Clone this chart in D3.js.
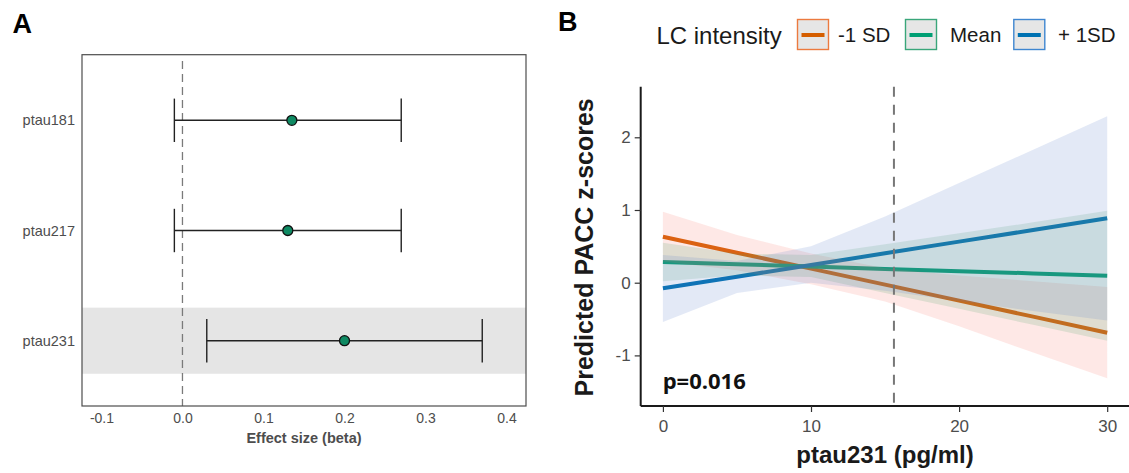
<!DOCTYPE html>
<html>
<head>
<meta charset="utf-8">
<script src="https://cdn.jsdelivr.net/npm/d3@7"></script>
<style>
  body { margin: 0; background: #fff; }
  text { font-family: "Liberation Sans", Arial, sans-serif; }
</style>
</head>
<body>
<div id="chart"></div>
<script>
// Panel A: forest plot data
var markers = ["ptau181", "ptau217", "ptau231"];
var beta = [0.135, 0.13, 0.2];
var ciLow = [-0.01, -0.01, 0.03];
var ciHigh = [0.27, 0.27, 0.37];
var xTicksA = [-0.1, 0, 0.1, 0.2, 0.3, 0.4];

// Panel B: predicted PACC by ptau231, per LC intensity group
var groups = ["-1 SD", "Mean", "+ 1SD"];
var ptau = [0, 5, 10, 15, 20, 25, 30];
var predLowLC = [0.633, 0.413, 0.193, -0.027, -0.247, -0.467, -0.688];
var predMeanLC = [0.285, 0.254, 0.222, 0.190, 0.159, 0.128, 0.096];
var predHighLC = [-0.077, 0.083, 0.244, 0.404, 0.565, 0.725, 0.886];
var lowerLowLC = [0.29, 0.17, -0.02, -0.26, -0.60, -0.96, -1.315];
var upperLowLC = [0.977, 0.656, 0.40, 0.20, 0.10, 0.02, -0.06];
var lowerMeanLC = [0.02, 0.10, 0.08, -0.14, -0.36, -0.58, -0.80];
var upperMeanLC = [0.55, 0.40, 0.38, 0.53, 0.68, 0.83, 0.99];
var lowerHighLC = [-0.54, -0.14, 0.0, -0.11, -0.25, -0.39, -0.52];
var upperHighLC = [0.38, 0.30, 0.50, 0.91, 1.37, 1.83, 2.29];
var xTicksB = [0, 10, 20, 30];
var yTicksB = [-1, 0, 1, 2];
var cutoff = 15.6;
var pLabel = "p=0.016";

var lineColors = ["#D55E00", "#009E73", "#0072B2"];
var ribbonColors = ["#F8766D", "#4a9e62", "#5b7fc8"];
var keyBorders = ["#ec7a3f", "#3aa67a", "#3f86d0"];

var svgWidth = 1129;
var svgHeight = 473;

var svg = d3.select("#chart")
  .append("svg").attr("width", svgWidth).attr("height", svgHeight)
  .style("display", "block");

svg.append("rect").attr("width", svgWidth).attr("height", svgHeight).attr("fill", "#fff");

// plain hyphen for negatives, like the original
function fmt1(d) { return d.toFixed(1); }
function fmt0(d) { return String(d); }

// ---------- Panel A ----------
var boxA = {left: 82, right: 526, top: 54.7, bottom: 406};

var xA = d3.scaleLinear().domain([-0.124, 0.424]).range([boxA.left, boxA.right]);
var yA = d3.scalePoint().domain(markers).range([120.3, 340.7]);

var panelA = svg.append("g");

// shaded row for ptau231
var bandHalf = yA.step() * 0.3;
panelA.append("rect")
  .attr("x", boxA.left)
  .attr("y", yA("ptau231") - bandHalf)
  .attr("width", boxA.right - boxA.left)
  .attr("height", bandHalf * 2)
  .attr("fill", "#e5e5e5");

panelA.append("line")
  .attr("x1", xA(0)).attr("x2", xA(0))
  .attr("y1", 61).attr("y2", boxA.bottom)
  .attr("stroke", "#7a7a7a")
  .attr("stroke-width", 1.3)
  .attr("stroke-dasharray", "8,5");

var rows = markers.map(function(m, i) {
  return {name: m, beta: beta[i], lo: ciLow[i], hi: ciHigh[i]};
});

var errGroup = panelA.selectAll(".err")
  .data(rows)
  .enter()
  .append("g")
  .attr("class", "err");

errGroup.append("line")
  .attr("x1", d => xA(d.lo)).attr("x2", d => xA(d.hi))
  .attr("y1", d => yA(d.name)).attr("y2", d => yA(d.name))
  .attr("stroke", "#222").attr("stroke-width", 1.4);

errGroup.append("line")
  .attr("x1", d => xA(d.lo)).attr("x2", d => xA(d.lo))
  .attr("y1", d => yA(d.name) - 21.7).attr("y2", d => yA(d.name) + 21.7)
  .attr("stroke", "#222").attr("stroke-width", 1.4);

errGroup.append("line")
  .attr("x1", d => xA(d.hi)).attr("x2", d => xA(d.hi))
  .attr("y1", d => yA(d.name) - 21.7).attr("y2", d => yA(d.name) + 21.7)
  .attr("stroke", "#222").attr("stroke-width", 1.4);

errGroup.append("circle")
  .attr("cx", d => xA(d.beta))
  .attr("cy", d => yA(d.name))
  .attr("r", 5)
  .attr("fill", "#0f8a63")
  .attr("stroke", "#111")
  .attr("stroke-width", 1.3);

panelA.append("rect")
  .attr("x", boxA.left).attr("y", boxA.top)
  .attr("width", boxA.right - boxA.left)
  .attr("height", boxA.bottom - boxA.top)
  .attr("fill", "none")
  .attr("stroke", "#4d4d4d")
  .attr("stroke-width", 1.2);

var axisA = panelA.append("g")
  .attr("transform", `translate(0, ${boxA.bottom})`)
  .call(d3.axisBottom(xA).tickValues(xTicksA).tickSize(0).tickPadding(7).tickFormat(fmt1));
axisA.select(".domain").remove();
axisA.selectAll("text")
  .attr("font-size", 14)
  .attr("fill", "#4d4d4d")
  .style("font-family", "'Liberation Sans', Arial, sans-serif");

panelA.selectAll(".rowlab")
  .data(markers)
  .enter()
  .append("text")
  .attr("class", "rowlab")
  .attr("x", 75)
  .attr("y", d => yA(d))
  .attr("dy", "0.35em")
  .attr("text-anchor", "end")
  .attr("font-size", 14.5)
  .attr("fill", "#4d4d4d")
  .text(d => d);

panelA.append("text")
  .attr("x", (boxA.left + boxA.right) / 2)
  .attr("y", 443)
  .attr("text-anchor", "middle")
  .attr("font-size", 14.5)
  .attr("font-weight", "bold")
  .attr("fill", "#4d4d4d")
  .text("Effect size (beta)");

svg.append("text")
  .attr("x", 12.5).attr("y", 32.5)
  .attr("font-size", 27).attr("font-weight", "bold")
  .attr("fill", "#000")
  .text("A");

// ---------- Panel B ----------
var plotB = {left: 640.7, right: 1129.4, top: 86.7, bottom: 406};

var xB = d3.scaleLinear().domain([-1.5, 31.5]).range([plotB.left, plotB.right]);
var yB = d3.scaleLinear().domain([-1.696, 2.696]).range([plotB.bottom, plotB.top]);

var panelB = svg.append("g");

var preds = [predLowLC, predMeanLC, predHighLC];
var lowers = [lowerLowLC, lowerMeanLC, lowerHighLC];
var uppers = [upperLowLC, upperMeanLC, upperHighLC];

var series = groups.map(function(g, i) {
  return {
    name: g,
    color: lineColors[i],
    fill: ribbonColors[i],
    border: keyBorders[i],
    values: ptau.map(function(x, j) {
      return {x: x, y: preds[i][j], lo: lowers[i][j], hi: uppers[i][j]};
    })
  };
});

var line = d3.line().x(d => xB(d.x)).y(d => yB(d.y));
var area = d3.area().x(d => xB(d.x)).y0(d => yB(d.lo)).y1(d => yB(d.hi));

panelB.selectAll(".fit")
  .data(series)
  .enter()
  .append("path")
  .attr("class", "fit")
  .attr("d", d => line(d.values))
  .attr("fill", "none")
  .attr("stroke", d => d.color)
  .attr("stroke-width", 4);

panelB.selectAll(".ribbon")
  .data(series)
  .enter()
  .append("path")
  .attr("class", "ribbon")
  .attr("d", d => area(d.values))
  .attr("fill", d => d.fill)
  .attr("fill-opacity", 0.17);

panelB.append("line")
  .attr("x1", xB(cutoff)).attr("x2", xB(cutoff))
  .attr("y1", plotB.top).attr("y2", plotB.bottom)
  .attr("stroke", "#777")
  .attr("stroke-width", 2)
  .attr("stroke-dasharray", "10,8");

var xAxisB = panelB.append("g")
  .attr("transform", `translate(0, ${plotB.bottom})`)
  .call(d3.axisBottom(xB).tickValues(xTicksB).tickSize(6).tickPadding(7.5).tickFormat(fmt0));

var yAxisB = panelB.append("g")
  .attr("transform", `translate(${plotB.left}, 0)`)
  .call(d3.axisLeft(yB).tickValues(yTicksB).tickSize(6).tickPadding(4).tickFormat(fmt0));

[xAxisB, yAxisB].forEach(function(ax) {
  ax.select(".domain").attr("stroke", "#1a1a1a").attr("stroke-width", 2);
  ax.selectAll(".tick line").attr("stroke", "#333").attr("stroke-width", 1.2);
  ax.selectAll("text")
    .attr("font-size", 17)
    .attr("fill", "#4d4d4d")
    .style("font-family", "'Liberation Sans', Arial, sans-serif");
});
// ggplot-style axis lines without end ticks
xAxisB.select(".domain").attr("d", `M${plotB.left},0H${plotB.right}`);
yAxisB.select(".domain").attr("d", `M0,${plotB.top}V${plotB.bottom}`);

panelB.append("text")
  .attr("x", 662.7).attr("y", 389.3)
  .attr("font-size", 22).attr("font-weight", "bold")
  .style("font-family", "'Open Sans', 'Noto Sans', sans-serif")
  .attr("fill", "#111")
  .text(pLabel);

panelB.append("text")
  .attr("x", (plotB.left + plotB.right) / 2)
  .attr("y", 463)
  .attr("text-anchor", "middle")
  .attr("font-size", 24).attr("font-weight", "bold")
  .attr("fill", "#1a1a1a")
  .text("ptau231 (pg/ml)");

panelB.append("text")
  .attr("transform", `translate(593, ${(plotB.top + plotB.bottom) / 2 + 1}) rotate(-90)`)
  .attr("text-anchor", "middle")
  .attr("font-size", 25).attr("font-weight", "bold")
  .attr("fill", "#1a1a1a")
  .text("Predicted PACC z-scores");

// legend
var legend = svg.append("g");
legend.append("text")
  .attr("x", 656.4).attr("y", 43.5)
  .attr("font-size", 24)
  .attr("fill", "#1a1a1a")
  .text("LC intensity");

var keyX = [797.5, 905.5, 1013.8];
var labX = [838, 950, 1058];

var keys = legend.selectAll(".key")
  .data(series)
  .enter()
  .append("g")
  .attr("class", "key")
  .attr("transform", (d, i) => `translate(${keyX[i]}, 19.5)`);

keys.append("rect")
  .attr("width", 31).attr("height", 30)
  .attr("fill", "#e6e6e6")
  .attr("stroke", d => d.border)
  .attr("stroke-width", 1.4);

keys.append("line")
  .attr("x1", 4).attr("x2", 27)
  .attr("y1", 15.5).attr("y2", 15.5)
  .attr("stroke", d => d.color)
  .attr("stroke-width", 4);

legend.selectAll(".keylab")
  .data(groups)
  .enter()
  .append("text")
  .attr("class", "keylab")
  .attr("x", (d, i) => labX[i])
  .attr("y", 42)
  .attr("font-size", 20.5)
  .attr("fill", "#1a1a1a")
  .text(d => d);

svg.append("text")
  .attr("x", 558).attr("y", 31)
  .attr("font-size", 27).attr("font-weight", "bold")
  .attr("fill", "#000")
  .text("B");
</script>
</body>
</html>
